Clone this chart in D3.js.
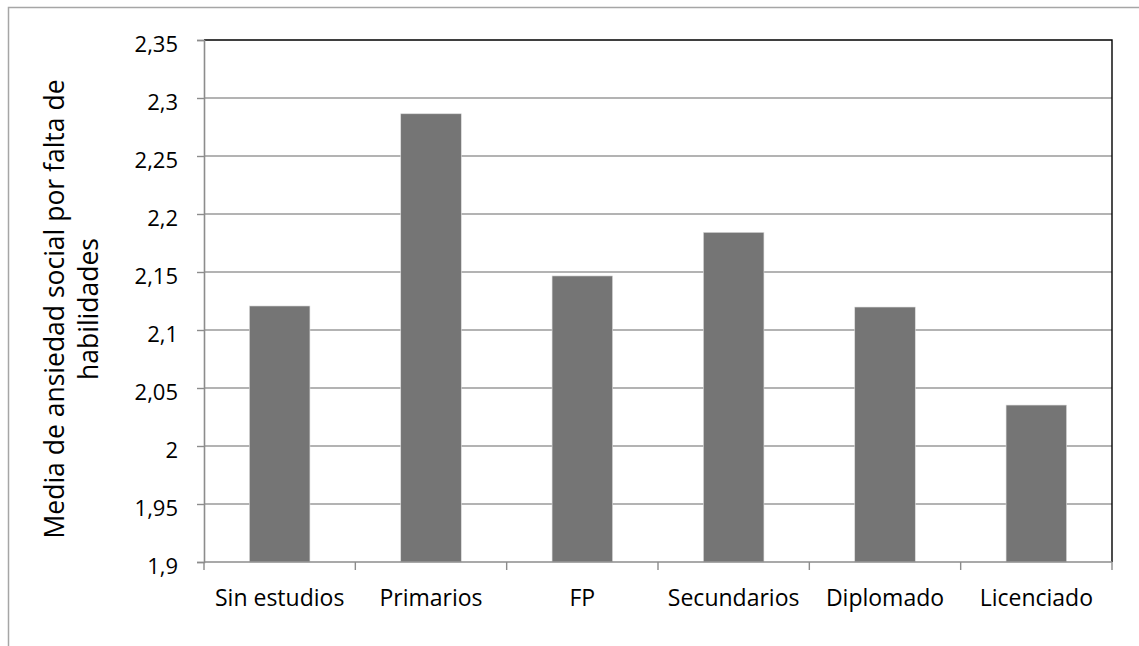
<!DOCTYPE html>
<html>
<head>
<meta charset="utf-8">
<script src="https://cdn.jsdelivr.net/npm/d3@7"></script>
<style>
  html, body { margin: 0; padding: 0; background: #fff; }
  svg { display: block; }
  text { font-family: "Open Sans", sans-serif; fill: #000; }
</style>
</head>
<body>
<svg id="chart" width="1139" height="646"></svg>
<script>
// Nivel de estudios y media de ansiedad social por falta de habilidades
const categories = ["Sin estudios", "Primarios", "FP", "Secundarios", "Diplomado", "Licenciado"];
const values = [2.1207, 2.2864, 2.1466, 2.1842, 2.1198, 2.0353];
const yTicks = [1.9, 1.95, 2, 2.05, 2.1, 2.15, 2.2, 2.25, 2.3, 2.35];
const yTitleLines = ["Media de ansiedad social por falta de", "habilidades"];

const svg = d3.select("#chart");
const W = 1139, H = 646;
const plot = { left: 204, right: 1112, top: 40, bottom: 562 };
const FONT = "'Open Sans', sans-serif";

// Outer chart frame
svg.append("rect")
  .attr("x", 8.5).attr("y", 7.5)
  .attr("width", W + 20).attr("height", H + 20)
  .attr("fill", "#fff").attr("stroke", "#a6a6a6").attr("stroke-width", 1.5);

const x = d3.scaleBand().domain(categories).range([plot.left, plot.right]).paddingInner(0.6).paddingOuter(0.3);
const y = d3.scaleLinear().domain([1.9, 2.35]).range([plot.bottom, plot.top]);

const fmt = d => String(+d.toFixed(2)).replace(".", ",");

// Horizontal gridlines
svg.append("g").selectAll("line").data(yTicks.slice(1, -1)).join("line")
  .attr("x1", plot.left).attr("x2", plot.right)
  .attr("y1", d => y(d)).attr("y2", d => y(d))
  .attr("stroke", "#9a9a9a").attr("stroke-width", 1.3);

// Bars
svg.append("g").selectAll("rect").data(values).join("rect")
  .attr("x", (d, i) => x(categories[i]))
  .attr("width", x.bandwidth())
  .attr("y", d => y(d))
  .attr("height", d => y(1.9) - y(d))
  .attr("fill", "#757575")
  .attr("stroke", "#dcdcdc").attr("stroke-width", 0.6);

// Plot area top and right edges
svg.append("path")
  .attr("d", `M${plot.left},${plot.top}H${plot.right}V${plot.bottom}`)
  .attr("fill", "none").attr("stroke", "#000").attr("stroke-width", 1.4);

// Y axis
const yAxis = svg.append("g").attr("transform", `translate(${plot.left},0)`)
  .call(d3.axisLeft(y).tickValues(yTicks).tickSize(7).tickPadding(19).tickFormat(fmt));
yAxis.attr("font-family", FONT).attr("font-size", 22);
yAxis.select(".domain").attr("stroke", "#8c8c8c").attr("stroke-width", 1.6);
yAxis.selectAll(".tick line").attr("stroke", "#8c8c8c").attr("stroke-width", 1.4);
yAxis.selectAll(".tick text").attr("dy", "0.54em").attr("fill", "#000");

// X axis with ticks at category boundaries
const xAxisG = svg.append("g").attr("transform", `translate(0,${plot.bottom})`)
  .attr("font-family", FONT).attr("font-size", 23);
xAxisG.append("line").attr("x1", plot.left).attr("x2", plot.right)
  .attr("stroke", "#8c8c8c").attr("stroke-width", 1.6);
const boundaries = d3.range(categories.length + 1).map(i => plot.left + i * x.step());
xAxisG.selectAll("line.b").data(boundaries).join("line").attr("class", "b")
  .attr("x1", d => d).attr("x2", d => d).attr("y1", 0).attr("y2", 8)
  .attr("stroke", "#8c8c8c").attr("stroke-width", 1.4);
xAxisG.selectAll("text").data(categories).join("text")
  .attr("x", d => x(d) + x.bandwidth() / 2)
  .attr("y", 44)
  .attr("text-anchor", "middle")
  .text(d => d);

// Y axis title
const yt = svg.append("text")
  .attr("transform", `translate(64,309) rotate(-90)`)
  .attr("text-anchor", "middle")
  .attr("font-family", FONT)
  .attr("font-size", 26.5);
yt.selectAll("tspan").data(yTitleLines).join("tspan")
  .attr("x", 0).attr("dy", (d, i) => i === 0 ? 0 : 34)
  .text(d => d);
</script>
</body>
</html>
